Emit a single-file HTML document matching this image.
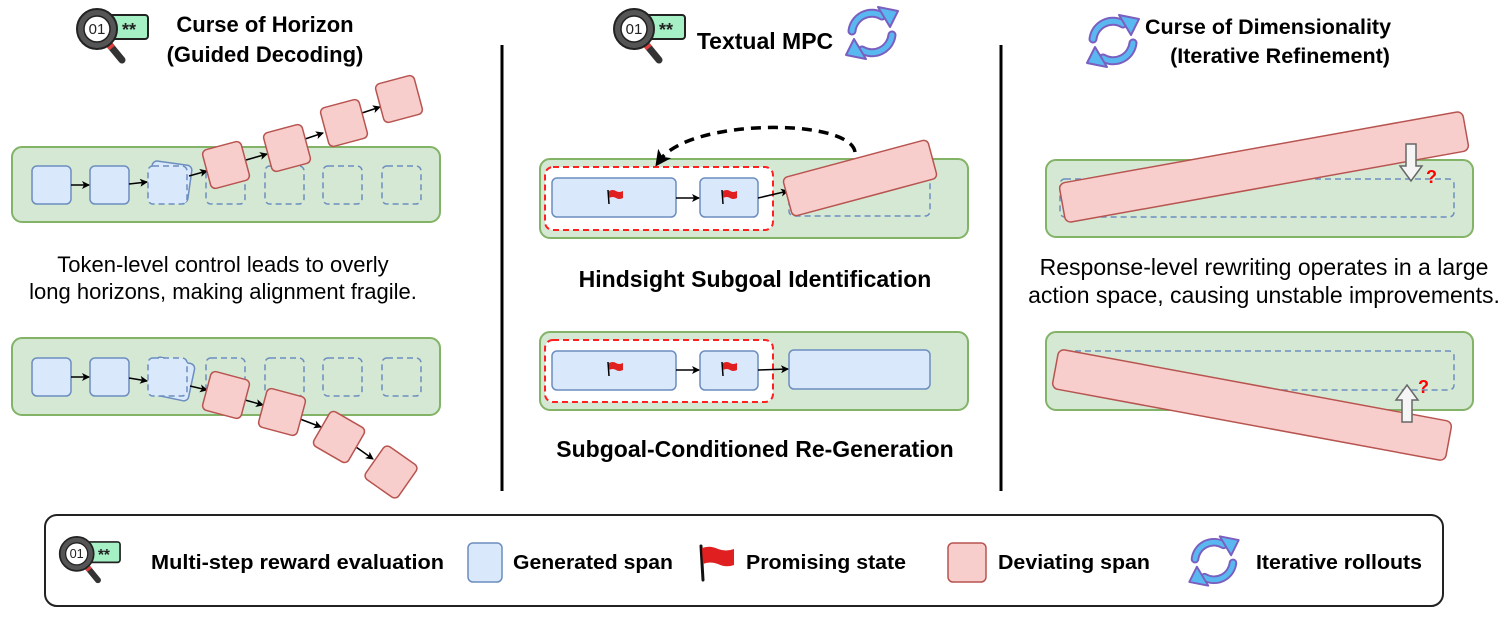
<!DOCTYPE html>
<html><head><meta charset="utf-8"><style>
html,body{margin:0;padding:0;background:#fff;}
svg{display:block;font-family:"Liberation Sans",sans-serif;}
</style></head><body>
<svg width="1505" height="618" viewBox="0 0 1505 618" xmlns="http://www.w3.org/2000/svg">
<defs>
<marker id="ah" markerWidth="8" markerHeight="8" refX="7" refY="4" orient="auto" markerUnits="userSpaceOnUse"><path d="M0,0 L8,4 L0,8 L2,4z" fill="#000"/></marker>
<marker id="ah2" markerWidth="16" markerHeight="16" refX="8" refY="8" orient="auto" markerUnits="userSpaceOnUse"><path d="M0,0 L16,8 L0,16 L4,8z" fill="#000"/></marker>
</defs>

<rect x="45" y="515" width="1398" height="91" rx="12" fill="#fff" stroke="#222" stroke-width="2"/>

<g transform="translate(75,8)">
 <rect x="33" y="7" width="40" height="24" rx="3" fill="#a6f0c6" stroke="#222" stroke-width="2"/>
 <text x="54" y="28" font-size="18" font-weight="bold" text-anchor="middle" fill="#222">**</text>
 <line x1="33" y1="35" x2="47" y2="52" stroke="#333" stroke-width="7" stroke-linecap="round"/>
 <line x1="32" y1="34" x2="37" y2="40" stroke="#e04040" stroke-width="7"/>
 <circle cx="22" cy="21" r="20" fill="#555" stroke="#222" stroke-width="2"/>
 <circle cx="22" cy="21" r="13" fill="#fff" stroke="#222" stroke-width="1.5"/>
 <text x="22" y="26" font-size="15" text-anchor="middle" fill="#222">01</text>
</g>
<g transform="translate(612,8)">
 <rect x="33" y="7" width="40" height="24" rx="3" fill="#a6f0c6" stroke="#222" stroke-width="2"/>
 <text x="54" y="28" font-size="18" font-weight="bold" text-anchor="middle" fill="#222">**</text>
 <line x1="33" y1="35" x2="47" y2="52" stroke="#333" stroke-width="7" stroke-linecap="round"/>
 <line x1="32" y1="34" x2="37" y2="40" stroke="#e04040" stroke-width="7"/>
 <circle cx="22" cy="21" r="20" fill="#555" stroke="#222" stroke-width="2"/>
 <circle cx="22" cy="21" r="13" fill="#fff" stroke="#222" stroke-width="1.5"/>
 <text x="22" y="26" font-size="15" text-anchor="middle" fill="#222">01</text>
</g>
<g transform="translate(58,536) scale(0.85)">
 <rect x="33" y="7" width="40" height="24" rx="3" fill="#a6f0c6" stroke="#222" stroke-width="2"/>
 <text x="54" y="28" font-size="18" font-weight="bold" text-anchor="middle" fill="#222">**</text>
 <line x1="33" y1="35" x2="47" y2="52" stroke="#333" stroke-width="7" stroke-linecap="round"/>
 <line x1="32" y1="34" x2="37" y2="40" stroke="#e04040" stroke-width="7"/>
 <circle cx="22" cy="21" r="20" fill="#555" stroke="#222" stroke-width="2"/>
 <circle cx="22" cy="21" r="13" fill="#fff" stroke="#222" stroke-width="1.5"/>
 <text x="22" y="26" font-size="15" text-anchor="middle" fill="#222">01</text>
</g>

<g transform="translate(872,33)">
 <g fill="none" stroke="#7a5fc0" stroke-width="9" stroke-linecap="round"><path d="M-20,-2 A20 20 0 0 1 10,-17"/><path d="M20,2 A20 20 0 0 1 -10,17"/></g>
 <g fill="none" stroke="#5ab8f0" stroke-width="5" stroke-linecap="round"><path d="M-20,-2 A20 20 0 0 1 10,-17"/><path d="M20,2 A20 20 0 0 1 -10,17"/></g>
 <polygon points="6,-26 26,-22 18,-6" fill="#5ab8f0" stroke="#7a5fc0" stroke-width="2" stroke-linejoin="round"/>
 <polygon points="-6,26 -26,22 -18,6" fill="#5ab8f0" stroke="#7a5fc0" stroke-width="2" stroke-linejoin="round"/>
</g>
<g transform="translate(1113,41)">
 <g fill="none" stroke="#7a5fc0" stroke-width="9" stroke-linecap="round"><path d="M-20,-2 A20 20 0 0 1 10,-17"/><path d="M20,2 A20 20 0 0 1 -10,17"/></g>
 <g fill="none" stroke="#5ab8f0" stroke-width="5" stroke-linecap="round"><path d="M-20,-2 A20 20 0 0 1 10,-17"/><path d="M20,2 A20 20 0 0 1 -10,17"/></g>
 <polygon points="6,-26 26,-22 18,-6" fill="#5ab8f0" stroke="#7a5fc0" stroke-width="2" stroke-linejoin="round"/>
 <polygon points="-6,26 -26,22 -18,6" fill="#5ab8f0" stroke="#7a5fc0" stroke-width="2" stroke-linejoin="round"/>
</g>
<g transform="translate(1214,561) scale(0.95)">
 <g fill="none" stroke="#7a5fc0" stroke-width="9" stroke-linecap="round"><path d="M-20,-2 A20 20 0 0 1 10,-17"/><path d="M20,2 A20 20 0 0 1 -10,17"/></g>
 <g fill="none" stroke="#5ab8f0" stroke-width="5" stroke-linecap="round"><path d="M-20,-2 A20 20 0 0 1 10,-17"/><path d="M20,2 A20 20 0 0 1 -10,17"/></g>
 <polygon points="6,-26 26,-22 18,-6" fill="#5ab8f0" stroke="#7a5fc0" stroke-width="2" stroke-linejoin="round"/>
 <polygon points="-6,26 -26,22 -18,6" fill="#5ab8f0" stroke="#7a5fc0" stroke-width="2" stroke-linejoin="round"/>
</g>

<g font-weight="bold" text-anchor="middle" fill="#000">
<text x="265" y="32" font-size="22">Curse of Horizon</text>
<text x="265" y="62" font-size="22">(Guided Decoding)</text>
<text x="765" y="49" font-size="23">Textual MPC</text>
<text x="1268" y="34" font-size="21.5">Curse of Dimensionality</text>
<text x="1280" y="63" font-size="21.5">(Iterative Refinement)</text>
<text x="755" y="287" font-size="23">Hindsight Subgoal Identification</text>
<text x="755" y="457" font-size="23">Subgoal-Conditioned Re-Generation</text>
</g>
<g font-size="23" text-anchor="middle" fill="#000">
<text x="223" y="272" font-size="22">Token-level control leads to overly</text>
<text x="223" y="299" font-size="22">long horizons, making alignment fragile.</text>
<text x="1264" y="275">Response-level rewriting operates in a large</text>
<text x="1264" y="303">action space, causing unstable improvements.</text>
</g>

<line x1="502" y1="45" x2="502" y2="491" stroke="#000" stroke-width="3"/>
<line x1="1001" y1="45" x2="1001" y2="491" stroke="#000" stroke-width="3"/>

<rect x="12" y="147" width="428" height="75" rx="10" fill="#d5e8d4" stroke="#82b366" stroke-width="2"/>
<g fill="#dae8fc" stroke="#6c8ebf" stroke-width="1.5">
<rect x="32" y="166" width="39" height="38" rx="5"/>
<rect x="90" y="166" width="39" height="38" rx="5"/>
<rect x="150" y="163" width="40" height="38" rx="5" transform="rotate(8 170 182)"/>
</g>
<g fill="none" stroke="#6c8ebf" stroke-width="1.5" stroke-dasharray="6,4">
<rect x="148" y="166" width="39" height="38" rx="5" fill="#dae8fc"/>
<rect x="206" y="166" width="39" height="38" rx="5"/>
<rect x="265" y="166" width="39" height="38" rx="5"/>
<rect x="323" y="166" width="39" height="38" rx="5"/>
<rect x="382" y="166" width="39" height="38" rx="5"/>
</g>
<g stroke="#000" stroke-width="1.5" marker-end="url(#ah)">
<line x1="71" y1="185" x2="89" y2="185"/>
<line x1="129" y1="184" x2="147" y2="182"/>
<line x1="189" y1="176" x2="207" y2="171"/>
<line x1="246" y1="160" x2="267" y2="154"/>
<line x1="305" y1="139" x2="323" y2="133"/>
<line x1="362" y1="113" x2="380" y2="107"/>
</g>
<g fill="#f8cecc" stroke="#b85450" stroke-width="1.5">
<rect x="206" y="145" width="40" height="40" rx="5" transform="rotate(-15 226 165)"/>
<rect x="267" y="128" width="40" height="40" rx="5" transform="rotate(-15 287 148)"/>
<rect x="324" y="103" width="40" height="40" rx="5" transform="rotate(-15 344 123)"/>
<rect x="379" y="79" width="40" height="40" rx="5" transform="rotate(-15 399 99)"/>
</g>

<rect x="12" y="338" width="428" height="77" rx="10" fill="#d5e8d4" stroke="#82b366" stroke-width="2"/>
<g fill="#dae8fc" stroke="#6c8ebf" stroke-width="1.5">
<rect x="32" y="358" width="39" height="38" rx="5"/>
<rect x="90" y="358" width="39" height="38" rx="5"/>
<rect x="152" y="360" width="40" height="38" rx="5" transform="rotate(12 172 379)"/>
</g>
<g fill="none" stroke="#6c8ebf" stroke-width="1.5" stroke-dasharray="6,4">
<rect x="148" y="358" width="39" height="38" rx="5" fill="#dae8fc"/>
<rect x="206" y="358" width="39" height="38" rx="5"/>
<rect x="265" y="358" width="39" height="38" rx="5"/>
<rect x="323" y="358" width="39" height="38" rx="5"/>
<rect x="382" y="358" width="39" height="38" rx="5"/>
</g>
<g stroke="#000" stroke-width="1.5" marker-end="url(#ah)">
<line x1="71" y1="377" x2="89" y2="377"/>
<line x1="129" y1="378" x2="147" y2="381"/>
<line x1="190" y1="386" x2="207" y2="390"/>
<line x1="245" y1="400" x2="263" y2="405"/>
<line x1="300" y1="419" x2="321" y2="427"/>
<line x1="356" y1="447" x2="373" y2="459"/>
</g>
<g fill="#f8cecc" stroke="#b85450" stroke-width="1.5">
<rect x="206" y="375" width="40" height="40" rx="5" transform="rotate(15 226 395)"/>
<rect x="262" y="392" width="40" height="40" rx="5" transform="rotate(15 282 412)"/>
<rect x="319" y="417" width="40" height="40" rx="5" transform="rotate(30 339 437)"/>
<rect x="371" y="452" width="40" height="40" rx="5" transform="rotate(35 391 472)"/>
</g>

<rect x="540" y="159" width="428" height="79" rx="10" fill="#d5e8d4" stroke="#82b366" stroke-width="2"/>
<rect x="545" y="167" width="228" height="63" rx="8" fill="#fff" stroke="#ff2020" stroke-width="2" stroke-dasharray="6,4"/>
<rect x="552" y="178" width="124" height="39" rx="5" fill="#dae8fc" stroke="#6c8ebf" stroke-width="1.5"/>
<rect x="700" y="178" width="58" height="39" rx="5" fill="#dae8fc" stroke="#6c8ebf" stroke-width="1.5"/>
<rect x="789" y="177" width="141" height="39" rx="5" fill="none" stroke="#6c8ebf" stroke-width="1.5" stroke-dasharray="6,4"/>
<line x1="676" y1="198" x2="699" y2="198" stroke="#000" stroke-width="1.5" marker-end="url(#ah)"/>
<line x1="758" y1="198" x2="788" y2="191" stroke="#000" stroke-width="1.5" marker-end="url(#ah)"/>
<rect x="785" y="158" width="150" height="40" rx="5" fill="#f8cecc" stroke="#b85450" stroke-width="1.5" transform="rotate(-15 860 178)"/>
<path d="M855,152 C850,118 690,118 660,160" fill="none" stroke="#000" stroke-width="3.5" stroke-dasharray="10,7" marker-end="url(#ah2)"/>

<rect x="540" y="332" width="428" height="78" rx="10" fill="#d5e8d4" stroke="#82b366" stroke-width="2"/>
<rect x="545" y="340" width="228" height="62" rx="8" fill="#fff" stroke="#ff2020" stroke-width="2" stroke-dasharray="6,4"/>
<rect x="552" y="351" width="124" height="39" rx="5" fill="#dae8fc" stroke="#6c8ebf" stroke-width="1.5"/>
<rect x="700" y="351" width="58" height="39" rx="5" fill="#dae8fc" stroke="#6c8ebf" stroke-width="1.5"/>
<rect x="789" y="350" width="141" height="39" rx="5" fill="#dae8fc" stroke="#6c8ebf" stroke-width="1.5"/>
<line x1="676" y1="370" x2="699" y2="370" stroke="#000" stroke-width="1.5" marker-end="url(#ah)"/>
<line x1="758" y1="370" x2="788" y2="369" stroke="#000" stroke-width="1.5" marker-end="url(#ah)"/>

<g fill="#e02020">
<g transform="translate(608,190)"><line x1="0" y1="0" x2="1" y2="14" stroke="#000" stroke-width="1.5"/><path d="M1,1 Q5,-1 8,1 Q11,3 15,1 L15,8 Q11,10 8,8 Q5,6 1,8z"/></g>
<g transform="translate(722,190)"><line x1="0" y1="0" x2="1" y2="14" stroke="#000" stroke-width="1.5"/><path d="M1,1 Q5,-1 8,1 Q11,3 15,1 L15,8 Q11,10 8,8 Q5,6 1,8z"/></g>
<g transform="translate(608,362)"><line x1="0" y1="0" x2="1" y2="14" stroke="#000" stroke-width="1.5"/><path d="M1,1 Q5,-1 8,1 Q11,3 15,1 L15,8 Q11,10 8,8 Q5,6 1,8z"/></g>
<g transform="translate(722,362)"><line x1="0" y1="0" x2="1" y2="14" stroke="#000" stroke-width="1.5"/><path d="M1,1 Q5,-1 8,1 Q11,3 15,1 L15,8 Q11,10 8,8 Q5,6 1,8z"/></g>
</g>

<rect x="1046" y="160" width="427" height="77" rx="10" fill="#d5e8d4" stroke="#82b366" stroke-width="2"/>
<rect x="1060" y="179" width="394" height="38" rx="5" fill="none" stroke="#6c8ebf" stroke-width="1.5" stroke-dasharray="6,4"/>
<rect x="1059" y="147" width="410" height="40" rx="6" fill="#f8cecc" stroke="#b85450" stroke-width="1.5" transform="rotate(-10.2 1264 167)"/>
<polygon points="1406,144 1416,144 1416,166 1422,166 1411,181 1400,166 1406,166" fill="#f5f5f5" stroke="#666" stroke-width="1.5"/>
<text x="1426" y="183" font-size="18" font-weight="bold" fill="#f00">?</text>

<rect x="1046" y="332" width="427" height="78" rx="10" fill="#d5e8d4" stroke="#82b366" stroke-width="2"/>
<rect x="1060" y="351" width="394" height="39" rx="5" fill="none" stroke="#6c8ebf" stroke-width="1.5" stroke-dasharray="6,4"/>
<rect x="1052" y="385" width="400" height="40" rx="6" fill="#f8cecc" stroke="#b85450" stroke-width="1.5" transform="rotate(10.5 1252 405)"/>
<polygon points="1402,422 1412,422 1412,400 1418,400 1407,385 1396,400 1402,400" fill="#f5f5f5" stroke="#666" stroke-width="1.5"/>
<text x="1418" y="393" font-size="18" font-weight="bold" fill="#f00">?</text>

<g font-weight="bold" font-size="20" fill="#000">
<text x="151" y="569" textLength="293" lengthAdjust="spacingAndGlyphs">Multi-step  reward evaluation</text>
<text x="513" y="569" textLength="160" lengthAdjust="spacingAndGlyphs">Generated span</text>
<text x="746" y="569" textLength="160" lengthAdjust="spacingAndGlyphs">Promising state</text>
<text x="998" y="569" textLength="152" lengthAdjust="spacingAndGlyphs">Deviating span</text>
<text x="1256" y="569" textLength="166" lengthAdjust="spacingAndGlyphs">Iterative rollouts</text>
</g>
<rect x="468" y="543" width="34" height="39" rx="5" fill="#dae8fc" stroke="#6c8ebf" stroke-width="1.5"/>
<rect x="948" y="543" width="38" height="39" rx="5" fill="#f8cecc" stroke="#b85450" stroke-width="1.5"/>
<g transform="translate(700,546)">
<line x1="1" y1="0" x2="3" y2="34" stroke="#111" stroke-width="3" stroke-linecap="round"/>
<path d="M2,2 Q10,-1 18,3 Q26,6 34,3 L34,19 Q26,22 18,18 Q10,15 3,18z" fill="#e02020"/>
</g>
</svg>
</body></html>
